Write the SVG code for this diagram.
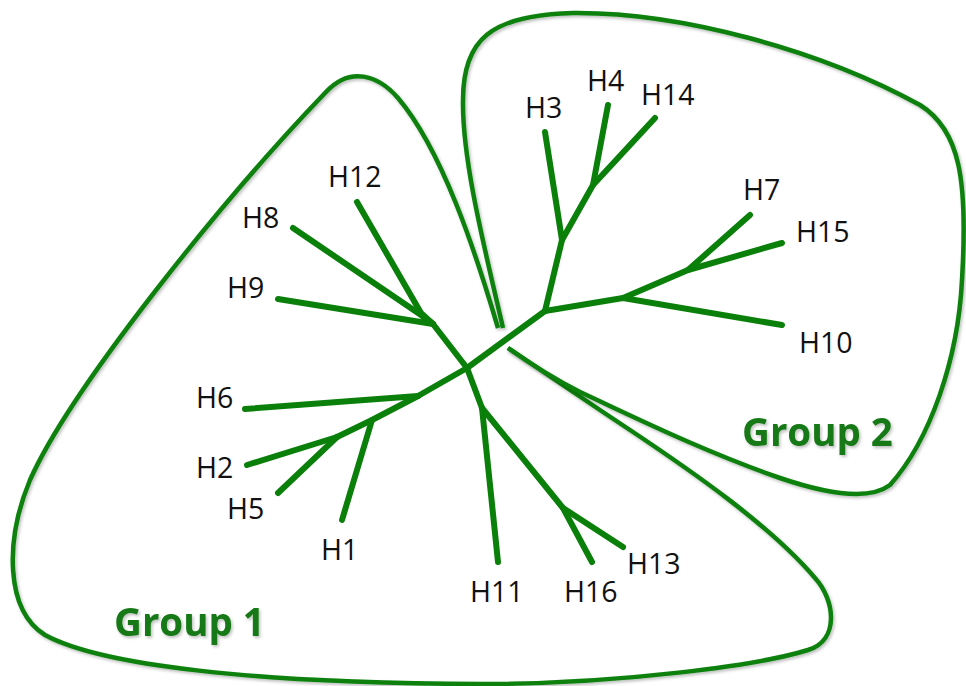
<svg xmlns="http://www.w3.org/2000/svg" width="966" height="686" viewBox="0 0 966 686">
<defs>
<style>
.edge{fill:none;stroke:#0a800a;stroke-width:6;stroke-linecap:round;stroke-linejoin:round}
.outline{fill:none;stroke:#0a800a;stroke-width:4.5;stroke-linejoin:round}
.lbl{font-family:"Open Sans","Liberation Sans",sans-serif;font-size:28.5px;fill:#111}
.grp{font-family:"Open Sans","Liberation Sans",sans-serif;font-size:38.5px;font-weight:bold;fill:#137813}
</style>
<filter id="sh" x="-5%" y="-5%" width="110%" height="110%">
<feDropShadow dx="1.5" dy="2" stdDeviation="1.5" flood-color="#000" flood-opacity="0.25"/>
</filter>
</defs>
<rect width="966" height="686" fill="#fff"/>
<g id="group1" filter="url(#sh)">
<path class="outline" d="M 498 328 C 475 250, 442 150, 398 98 C 378 75, 350 66, 326 92 C 222 200, 70 390, 30 480 C 5 540, 5 610, 45 635 C 100 665, 250 683, 480 684 C 620 684, 760 665, 808 650 C 840 640, 835 600, 815 578 C 770 525, 690 470, 630 430 C 580 397, 535 366, 508 348"/>
<text class="grp" x="114" y="636">Group 1</text>
</g>
<g id="group2" filter="url(#sh)">
<path class="outline" d="M 503 328 C 485 250, 462 160, 463 100 C 463 40, 490 15, 573 13 C 680 12, 820 50, 920 105 C 960 130, 968 180, 962 280 C 958 360, 930 440, 890 485 C 870 500, 830 495, 780 478 C 700 450, 630 415, 580 392 C 545 374, 525 360, 508 348"/>
<text class="grp" x="742" y="446">Group 2</text>
</g>
<g id="connectors">
<polyline class="edge" points="357,202 421,313 433,324"/>
<polyline class="edge" points="293,228 421,315 433,324"/>
<polyline class="edge" points="278,299 433,324"/>
<polyline class="edge" points="433,324 467,368 482,408"/>
<polyline class="edge" points="482,408 498,562"/>
<polyline class="edge" points="482,408 563,508 592,562"/>
<polyline class="edge" points="563,508 623,547"/>
<polyline class="edge" points="545,311 467,368 418,396"/>
<polyline class="edge" points="245,409 418,396"/>
<polyline class="edge" points="418,396 372,420 337,437"/>
<polyline class="edge" points="372,420 342,520"/>
<polyline class="edge" points="337,437 247,465"/>
<polyline class="edge" points="337,437 278,493"/>
<polyline class="edge" points="545,311 562,240 545,132"/>
<polyline class="edge" points="562,240 593,185 608,105"/>
<polyline class="edge" points="593,185 655,118"/>
<polyline class="edge" points="545,311 623,298 782,325"/>
<polyline class="edge" points="623,298 688,270 750,215"/>
<polyline class="edge" points="688,270 782,243"/>
</g>
<g id="H12"><text class="lbl" x="328" y="187">H12</text></g>
<g id="H8"><text class="lbl" x="242" y="228">H8</text></g>
<g id="H9"><text class="lbl" x="227" y="298">H9</text></g>
<g id="H6"><text class="lbl" x="196" y="408">H6</text></g>
<g id="H2"><text class="lbl" x="196" y="478">H2</text></g>
<g id="H5"><text class="lbl" x="227" y="519">H5</text></g>
<g id="H1"><text class="lbl" x="321" y="560">H1</text></g>
<g id="H11"><text class="lbl" x="470" y="602">H11</text></g>
<g id="H16"><text class="lbl" x="564" y="602">H16</text></g>
<g id="H13"><text class="lbl" x="627" y="574">H13</text></g>
<g id="H3"><text class="lbl" x="525" y="118">H3</text></g>
<g id="H4"><text class="lbl" x="587" y="91">H4</text></g>
<g id="H14"><text class="lbl" x="641" y="105">H14</text></g>
<g id="H7"><text class="lbl" x="743" y="200">H7</text></g>
<g id="H15"><text class="lbl" x="796" y="242">H15</text></g>
<g id="H10"><text class="lbl" x="799" y="353">H10</text></g>
</svg>
